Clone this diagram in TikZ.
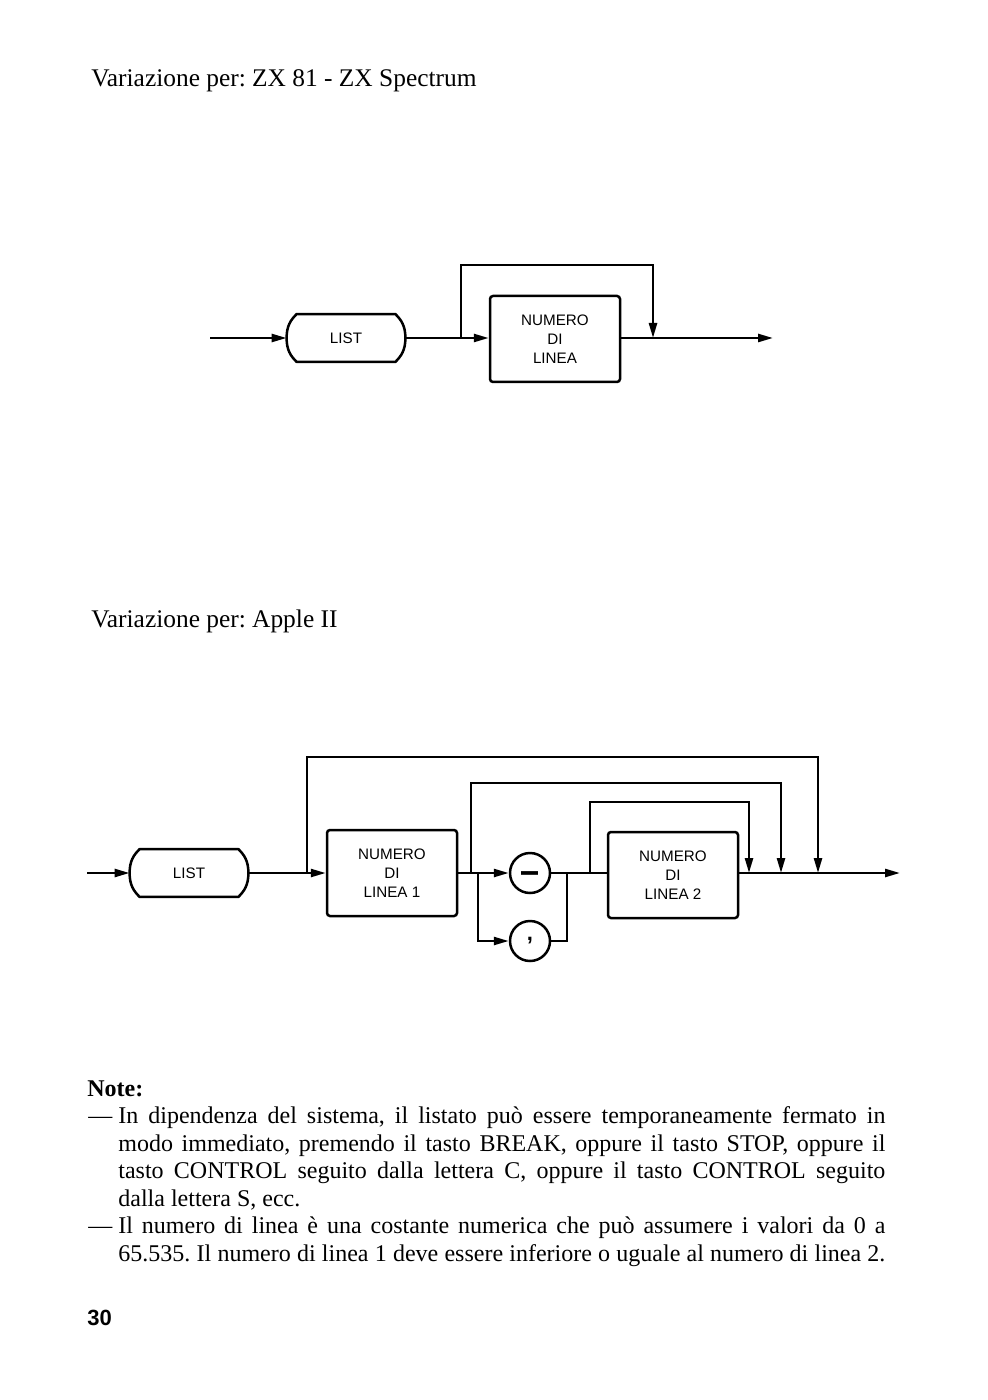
\documentclass[tikz,border=0pt]{standalone}
\usepackage{fontspec}
\usepackage{graphicx}
\setmainfont{Liberation Serif}
\setsansfont{Liberation Sans}
\frenchspacing
\usetikzlibrary{arrows.meta,calc}
\newcommand\drawlistshape[1]{%
  \draw[shapeline] ([xshift=5pt]#1.north west) -- ([xshift=-5pt]#1.north east)
    .. controls ([xshift=-2pt,yshift=-3pt]#1.north east) and ([yshift=6pt]#1.east) .. (#1.east)
    .. controls ([yshift=-6pt]#1.east) and ([xshift=-2pt,yshift=3pt]#1.south east) .. ([xshift=-5pt]#1.south east)
    -- ([xshift=5pt]#1.south west)
    .. controls ([xshift=2pt,yshift=3pt]#1.south west) and ([yshift=-6pt]#1.west) .. (#1.west)
    .. controls ([yshift=6pt]#1.west) and ([xshift=2pt,yshift=-3pt]#1.north west) .. cycle;}
\tikzset{
  conn/.style={line width=1.25pt},
  arr/.style={conn,-{Triangle[length=7.5pt,width=4pt]}},
  shapeline/.style={line width=1.25pt,line join=round},
  listnode/.style={rectangle,minimum width=59pt,minimum height=23.5pt,inner sep=0pt,
    font=\sffamily\fontsize{7.6}{9.5}\selectfont},
  numbox/.style={rectangle,draw,line width=1.25pt,rounded corners=1.5pt,minimum width=65pt,
    minimum height=43pt,inner sep=0pt,align=center,font=\sffamily\fontsize{7.6}{9.5}\selectfont},
  symcircle/.style={circle,draw,line width=1.25pt,minimum size=20pt,inner sep=0pt,
    font=\sffamily\bfseries\fontsize{7}{8}\selectfont},
  title/.style={anchor=base west,inner sep=0pt,font=\fontsize{12.7}{15}\selectfont},
  notetxt/.style={anchor=base west,inner sep=0pt,font=\fontsize{12}{13.75}\selectfont},
}
\begin{document}
\begin{tikzpicture}[x=0.5pt,y=-0.5pt]
\fill[white] (0,0) rectangle (988,1400);
\useasboundingbox (0,0) rectangle (988,1400);

% titles
\node[title] (title1) at (91,87) {Variazione per: ZX 81 - ZX Spectrum};
\node[title] (title2) at (91,627) {Variazione per: Apple II};

% ---------- top diagram ----------
\coordinate (t_in) at (210,338);
\node[listnode] (t_list) at (346,338) {LIST};
\drawlistshape{t_list}
\coordinate (t_split) at (461,338);
\node[numbox] (t_num) at (555,339) {NUMERO\\DI\\LINEA};
\coordinate (t_join) at (653,338);
\coordinate (t_out) at (773,338);
\coordinate (t_lt) at (461,265);
\coordinate (t_rt) at (653,265);

\draw[arr] (t_in) -- (t_list.west);
\draw[conn] (t_list.east) -- (t_split);
\draw[arr] (t_split) -- (t_num.west |- t_split);
\draw[arr] (t_num.east |- t_out) -- (t_out);
\draw[arr] (t_split) -- (t_lt) -- (t_rt) -- (t_join);

% ---------- bottom diagram ----------
\coordinate (b_in) at (87,873);
\node[listnode] (b_list) at (189,873) {LIST};
\drawlistshape{b_list}
\coordinate (b_s1) at (307,873);
\node[numbox] (b_num1) at (392,873) {NUMERO\\DI\\LINEA 1};
\coordinate (b_s2) at (471,873);
\coordinate (b_s3) at (478,873);
\node[symcircle] (b_minus) at (530,873) {\raisebox{-5.4pt}[0pt][0pt]{\scalebox{1}[2.2]{\fontsize{8.5}{9}\selectfont —}}};
\node[symcircle] (b_comma) at (530,941) {\raisebox{-1.5pt}{\fontsize{11}{11}\selectfont ,}};
\coordinate (b_c3) at (478,941);
\coordinate (b_m) at (567,873);
\coordinate (b_m2) at (567,941);
\coordinate (b_s4) at (590,873);
\node[numbox] (b_num2) at (673,875) {NUMERO\\DI\\LINEA 2};
\coordinate (b_j3) at (749,873);
\coordinate (b_j2) at (781,873);
\coordinate (b_j1) at (818,873);
\coordinate (b_out) at (900,873);
\coordinate (b_o1) at (307,757);
\coordinate (b_o2) at (818,757);
\coordinate (b_p1) at (471,783);
\coordinate (b_p2) at (781,783);
\coordinate (b_q1) at (590,802);
\coordinate (b_q2) at (749,802);

\draw[arr] (b_in) -- (b_list.west);
\draw[conn] (b_list.east) -- (b_s1);
\draw[arr] (b_s1) -- (b_num1.west);
\draw[conn] (b_num1.east) -- (b_s3);
\draw[arr] (b_s3) -- (b_minus.west);
\draw[arr] (b_s3) -- (b_c3) -- (b_comma.west);
\draw[conn] (b_minus.east) -- (b_m);
\draw[conn] (b_comma.east) -- (b_m2) -- (b_m);
\draw[conn] (b_m) -- (b_num2.west |- b_m);
\draw[arr] (b_num2.east |- b_out) -- (b_out);
\draw[arr] (b_s1) -- (b_o1) -- (b_o2) -- (b_j1);
\draw[arr] (b_s2) -- (b_p1) -- (b_p2) -- (b_j2);
\draw[arr] (b_s4) -- (b_q1) -- (b_q2) -- (b_j3);

% ---------- notes ----------
\node[notetxt,font=\bfseries\fontsize{12}{13.75}\selectfont] (notehead) at (87,1096) {Note:};
\node[notetxt] (dash1) at (88,1123.5) {—};
\node[notetxt] (l1) at (118,1123.5) {\makebox[383.5pt][s]{In dipendenza del sistema, il listato può essere temporaneamente fermato in}};
\node[notetxt] (l2) at (118,1151) {\makebox[383.5pt][s]{modo immediato, premendo il tasto BREAK, oppure il tasto STOP, oppure il}};
\node[notetxt] (l3) at (118,1178.5) {\makebox[383.5pt][s]{tasto CONTROL seguito dalla lettera C, oppure il tasto CONTROL seguito}};
\node[notetxt] (l4) at (118,1206) {dalla lettera S, ecc.};
\node[notetxt] (dash2) at (88,1233.5) {—};
\node[notetxt] (l5) at (118,1233.5) {\makebox[383.5pt][s]{Il numero di linea è una costante numerica che può assumere i valori da 0 a}};
\node[notetxt] (l6) at (118,1261) {\makebox[383.5pt][s]{65.535. Il numero di linea 1 deve essere inferiore o uguale al numero di linea 2.}};

% page number
\node[anchor=base west,inner sep=0pt,font=\sffamily\bfseries\fontsize{11}{13}\selectfont] (pagenum) at (87,1325) {30};
\end{tikzpicture}
\end{document}
